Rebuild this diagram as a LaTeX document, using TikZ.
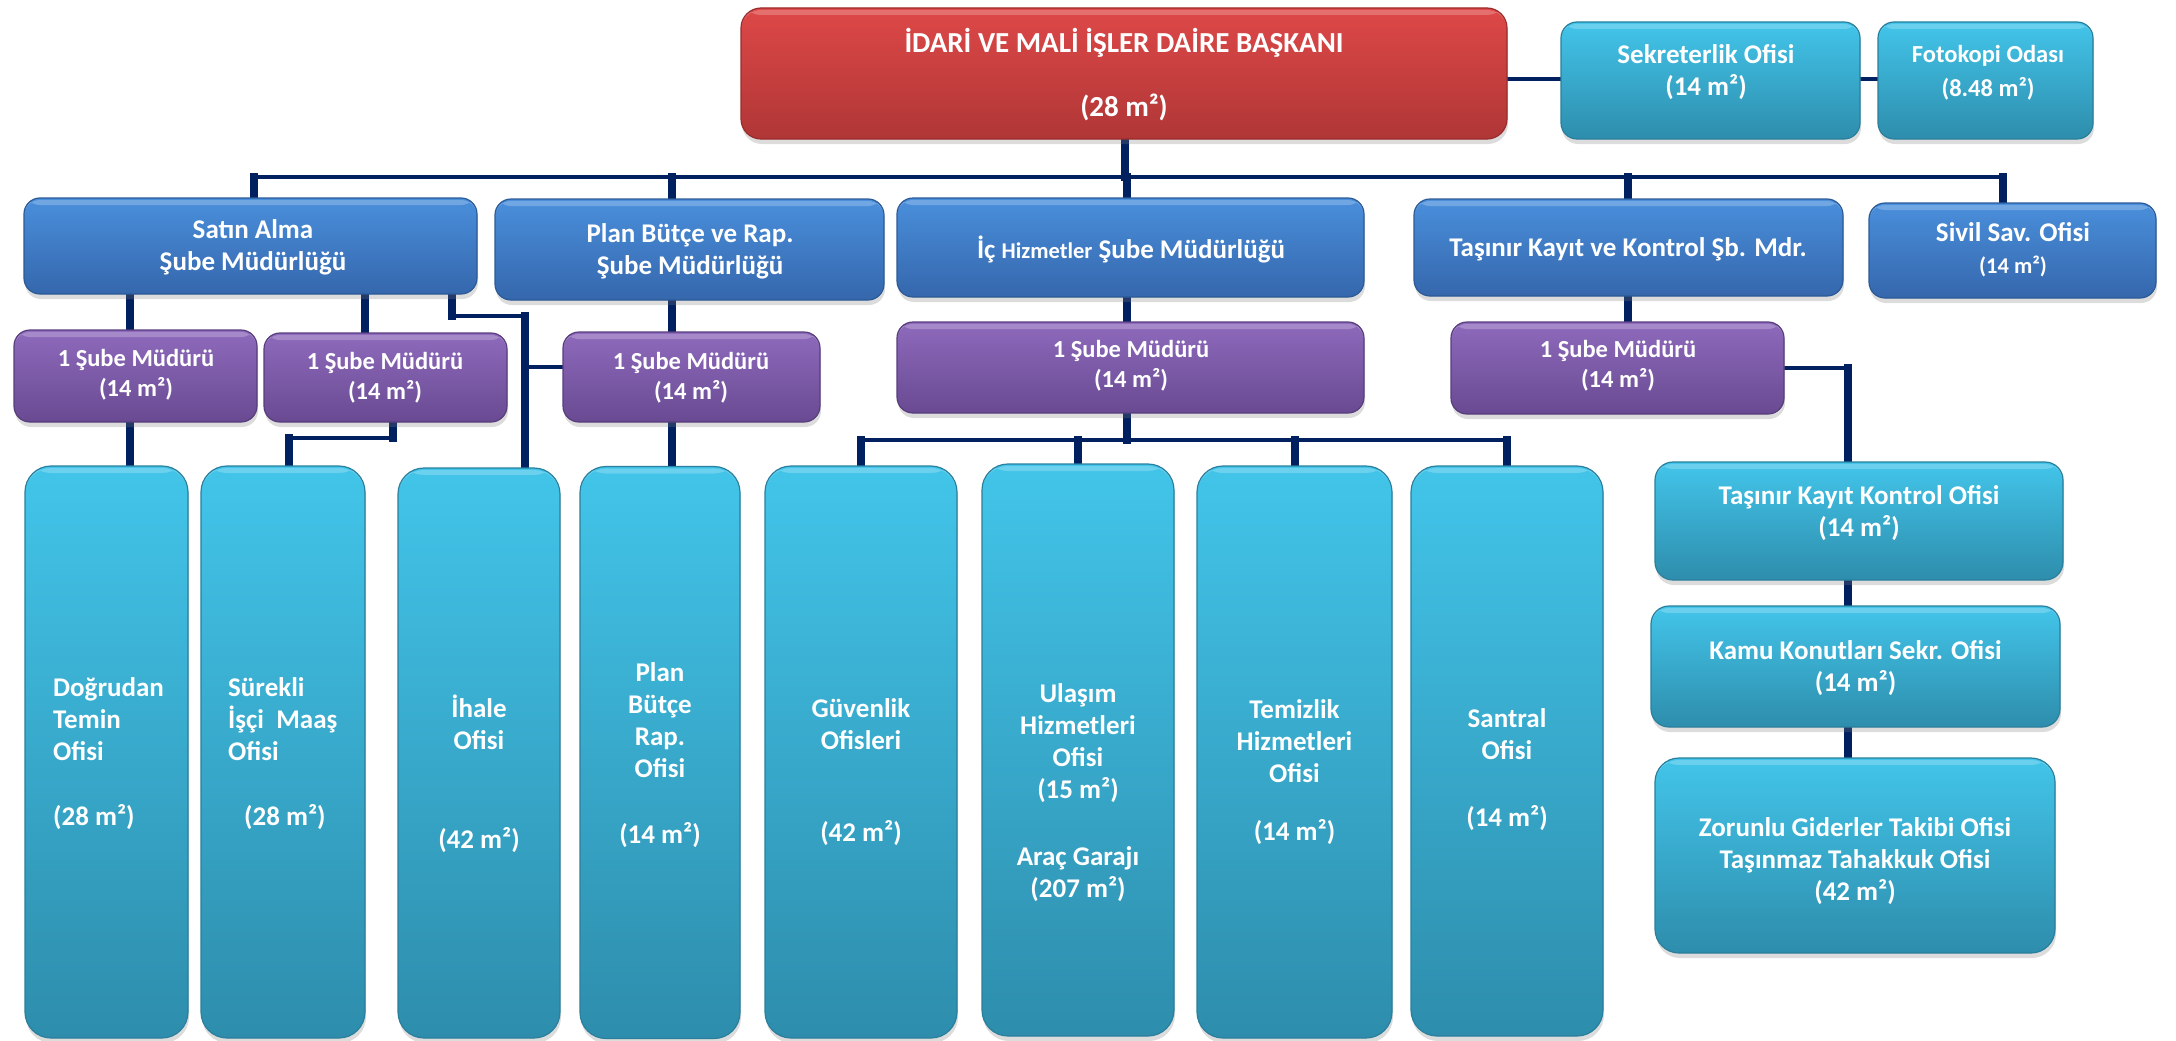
\documentclass[tikz,border=0pt]{standalone}
\usepackage{fontspec}
\setmainfont{Carlito}
\usetikzlibrary{shadows}
\pgfdeclarelayer{bg}
\pgfsetlayers{bg,main}
\definecolor{navy}{HTML}{00205F}
\definecolor{redT}{HTML}{DE4848}
\definecolor{redB}{HTML}{B03636}
\definecolor{redD}{HTML}{9A2C2C}
\definecolor{blueT}{HTML}{4A8FDC}
\definecolor{blueB}{HTML}{3567AC}
\definecolor{blueD}{HTML}{2C5A96}
\definecolor{purT}{HTML}{8E6ABC}
\definecolor{purB}{HTML}{694A92}
\definecolor{purD}{HTML}{583E7C}
\definecolor{cyaT}{HTML}{42C5EA}
\definecolor{cyaB}{HTML}{2E8DAC}
\definecolor{cyaD}{HTML}{2A7F9C}
\begin{document}
\begin{tikzpicture}[x=1pt,y=-1pt,
  base/.style={rectangle, rounded corners=#1, inner sep=0pt, line width=1.2pt,
    drop shadow={shadow xshift=1pt, shadow yshift=-5pt, opacity=0.28},
    path picture={\fill[white, opacity=0.22] ([yshift=-2pt]path picture bounding box.north west) rectangle ([yshift=-7pt]path picture bounding box.north east);}},
  base/.default=16pt,
  redbox/.style={base=20pt, top color=redT, bottom color=redB, draw=redD},
  bluebox/.style={base=16pt, top color=blueT, bottom color=blueB, draw=blueD},
  purbox/.style={base=16pt, top color=purT, bottom color=purB, draw=purD},
  cyabox/.style={base=#1, top color=cyaT, bottom color=cyaB, draw=cyaD},
  cyabox/.default=18pt,
  tall/.style={cyabox=26pt, minimum height=572pt},
  txt/.style={text=white, inner sep=0pt, align=center, font=\bfseries\fontsize{27}{32}\selectfont},
  ptxt/.style={txt, font=\bfseries\fontsize{24.5}{30}\selectfont},
  vconn/.style={draw=navy, line width=8pt, line cap=rect},
  hconn/.style={draw=navy, line width=4.5pt, line cap=rect}
]
\useasboundingbox (0,0) rectangle (2176,1041);

% ---------- boxes ----------
\node[redbox, minimum width=766pt, minimum height=131pt] (red) at (1124,73.5) {};
\node[cyabox=16pt, minimum width=299pt, minimum height=117pt] (sek) at (1710.5,80.5) {};
\node[cyabox=16pt, minimum width=215pt, minimum height=117pt] (foto) at (1985.5,80.5) {};

\node[bluebox, minimum width=453pt, minimum height=96pt] (sa) at (250.5,246) {};
\node[bluebox, minimum width=389pt, minimum height=101pt] (pb) at (689.5,249.5) {};
\node[bluebox, minimum width=467pt, minimum height=99pt] (ic) at (1130.5,247.5) {};
\node[bluebox, minimum width=429pt, minimum height=97pt] (tk) at (1628.5,247.5) {};
\node[bluebox, minimum width=287pt, minimum height=95pt] (sv) at (2012.5,250.5) {};

\node[purbox, minimum width=243pt, minimum height=92pt] (sa1) at (135.5,376) {};
\node[purbox, minimum width=243pt, minimum height=89pt] (sa2) at (385.5,377.5) {};
\node[purbox, minimum width=257pt, minimum height=90pt] (pb1) at (691.5,377) {};
\node[purbox, minimum width=467pt, minimum height=91pt] (ic1) at (1130.5,367.5) {};
\node[purbox, minimum width=333pt, minimum height=92pt] (tk1) at (1617.5,368) {};

\node[tall, minimum width=163pt] (c1) at (106.5,752) {};
\node[tall, minimum width=164pt] (c2) at (283,752) {};
\node[tall, minimum width=162pt, minimum height=570pt] (c3) at (479,753) {};
\node[tall, minimum width=160pt] (c4) at (660,752.5) {};
\node[tall, minimum width=192pt] (c5) at (861,752) {};
\node[tall, minimum width=192pt] (c6) at (1078,750) {};
\node[tall, minimum width=195pt] (c7) at (1294.5,752) {};
\node[tall, minimum width=192pt, minimum height=570pt] (c8) at (1507,751) {};

\node[cyabox=18pt, minimum width=408pt, minimum height=118pt] (r1) at (1859,521) {};
\node[cyabox=18pt, minimum width=409pt, minimum height=121pt] (r2) at (1855.5,666.5) {};
\node[cyabox=24pt, minimum width=400pt, minimum height=195pt] (r3) at (1855,855.5) {};

% ---------- texts ----------
\node[txt, font=\bfseries\fontsize{29}{32}\selectfont] (tred) at (1124,75) {İDARİ VE MALİ İŞLER DAİRE BAŞKANI\\[32pt](28 m²)};
\node[txt] (tsek) at (1706,72.5) {Sekreterlik Ofisi\\(14 m²)};
\node[txt, font=\bfseries\fontsize{24.5}{34}\selectfont] (tfoto) at (1988,72.5) {Fotokopi Odası\\(8.48 m²)};

\node[txt] (tsa) at (253,247.5) {Satın Alma\\Şube Müdürlüğü};
\node[txt] (tpb) at (690,251) {Plan Bütçe ve Rap.\\Şube Müdürlüğü};
\node[txt] (tic) at (1131,249) {İç {\fontsize{22.5}{32}\selectfont Hizmetler} Şube Müdürlüğü};
\node[txt] (ttk) at (1628,249) {Taşınır Kayıt ve Kontrol Şb. Mdr.};
\node[txt] (tsv) at (2013,250) {Sivil Sav. Ofisi\\{\fontsize{22.5}{30}\selectfont (14 m²)}};

\node[ptxt] (tsa1) at (136,374.5) {1 Şube Müdürü\\(14 m²)};
\node[ptxt] (tsa2) at (385,378) {1 Şube Müdürü\\(14 m²)};
\node[ptxt] (tpb1) at (691,378) {1 Şube Müdürü\\(14 m²)};
\node[ptxt] (tic1) at (1131,366) {1 Şube Müdürü\\(14 m²)};
\node[ptxt] (ttk1) at (1618,366) {1 Şube Müdürü\\(14 m²)};

\node[txt, align=left, anchor=west] (tc1) at (53,754) {Doğrudan\\Temin\\Ofisi\\[33pt](28 m²)};
\node[txt, align=left, anchor=west] (tc2) at (228,754) {Sürekli\\İşçi\ \ Maaş\\Ofisi\\[33pt]\hspace*{16pt}(28 m²)};
\node[txt] (tc3) at (479,773.5) {İhale\\Ofisi\\[67pt](42 m²)};
\node[txt] (tc4) at (660,755) {Plan\\Bütçe\\Rap.\\Ofisi\\[34pt](14 m²)};
\node[txt] (tc5) at (861,772.5) {Güvenlik\\Ofisleri\\[60pt](42 m²)};
\node[txt] (tc6) at (1078,792.5) {Ulaşım\\Hizmetleri\\Ofisi\\(15 m²)\\[35pt]Araç Garajı\\(207 m²)};
\node[txt] (tc7) at (1294.5,772) {Temizlik\\Hizmetleri\\Ofisi\\[26pt](14 m²)};
\node[txt] (tc8) at (1507,769.5) {Santral\\Ofisi\\[35pt](14 m²)};

\node[txt] (tr1) at (1859,513) {Taşınır Kayıt Kontrol Ofisi\\(14 m²)};
\node[txt] (tr2) at (1855.5,668.5) {Kamu Konutları Sekr. Ofisi\\(14 m²)};
\node[txt] (tr3) at (1855,861) {Zorunlu Giderler Takibi Ofisi\\Taşınmaz Tahakkuk Ofisi\\(42 m²)};

% ---------- helper coordinates ----------
\coordinate (busL) at (254,177);
\coordinate (busR) at (2003,177);
\coordinate (ylink) at (0,79);
\coordinate (xred) at (1125,0);
\coordinate (xpb) at (672,0);
\coordinate (xic) at (1127,0);
\coordinate (xtk) at (1628,0);
\coordinate (xsa1) at (130,0);
\coordinate (xsa2) at (365,0);
\coordinate (xsa3) at (452,0);
\coordinate (xih) at (525,0);
\coordinate (yk) at (0,316);
\coordinate (ypb) at (0,367);
\coordinate (xs2b) at (393,0);
\coordinate (xs2c) at (289,0);
\coordinate (ys2) at (0,438);
\coordinate (yic) at (0,440);
\coordinate (ytk) at (0,368);
\coordinate (xr) at (1848,0);

% ---------- connectors ----------
\begin{pgfonlayer}{bg}
\draw[hconn] (red.east |- ylink) -- (sek.west |- ylink);
\draw[hconn] (sek.east |- ylink) -- (foto.west |- ylink);
\draw[hconn] (busL) -- (busR);
\draw[vconn] (red.south -| xred) -- (busL -| xred);
\draw[vconn] (busL) -- (sa.north -| busL);
\draw[vconn] (busL -| xpb) -- (pb.north -| xpb);
\draw[vconn] (busL -| xic) -- (ic.north -| xic);
\draw[vconn] (busL -| xtk) -- (tk.north -| xtk);
\draw[vconn] (busR) -- (sv.north -| busR);

\draw[vconn] (sa.south -| xsa1) -- (sa1.north -| xsa1);
\draw[vconn] (sa.south -| xsa2) -- (sa2.north -| xsa2);
\draw[vconn] (sa.south -| xsa3) -- (xsa3 |- yk);
\draw[hconn] (xsa3 |- yk) -- (xih |- yk);
\draw[vconn] (xih |- yk) -- (c3.north -| xih);
\draw[hconn] (xih |- ypb) -- (pb1.west |- ypb);
\draw[vconn] (pb.south -| xpb) -- (pb1.north -| xpb);

\draw[vconn] (sa1.south -| xsa1) -- (c1.north -| xsa1);
\draw[vconn] (sa2.south -| xs2b) -- (xs2b |- ys2);
\draw[hconn] (xs2b |- ys2) -- (xs2c |- ys2);
\draw[vconn] (xs2c |- ys2) -- (c2.north -| xs2c);
\draw[vconn] (pb1.south -| xpb) -- (c4.north -| xpb);

\draw[vconn] (ic.south -| xic) -- (ic1.north -| xic);
\draw[vconn] (ic1.south -| xic) -- (xic |- yic);
\draw[hconn] (c5.north |- yic) -- (c8.north |- yic);
\draw[vconn] (c5.north |- yic) -- (c5.north);
\draw[vconn] (c6.north |- yic) -- (c6.north);
\draw[vconn] (c7.north |- yic) -- (c7.north);
\draw[vconn] (c8.north |- yic) -- (c8.north);

\draw[vconn] (tk.south -| xtk) -- (tk1.north -| xtk);
\draw[hconn] (tk1.east |- ytk) -- (xr |- ytk);
\draw[vconn] (xr |- ytk) -- (r1.north -| xr);
\draw[vconn] (r1.south -| xr) -- (r2.north -| xr);
\draw[vconn] (r2.south -| xr) -- (r3.north -| xr);
\end{pgfonlayer}
\end{tikzpicture}
\end{document}
